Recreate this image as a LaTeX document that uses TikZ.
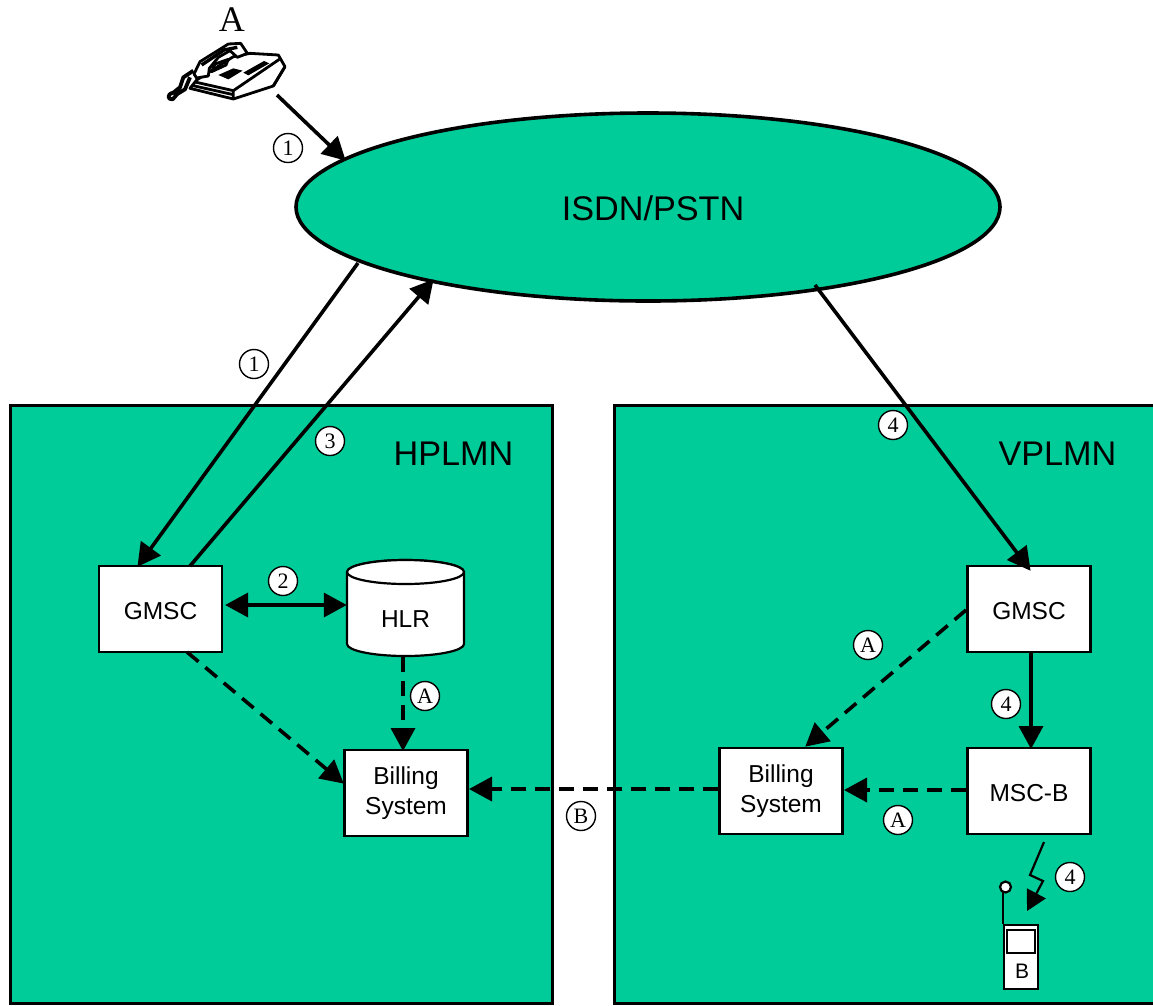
\documentclass[tikz,border=0pt]{standalone}
\usepackage{fontspec}
\setmainfont{Liberation Sans}
\newfontfamily\timesf{Liberation Serif}
\usetikzlibrary{arrows.meta,shapes.geometric}
\definecolor{netgreen}{HTML}{00CC99}
\tikzset{
  x=1pt,y=-1pt,
  plmn/.style={draw=black,line width=3pt,fill=netgreen},
  cloudnet/.style={ellipse,draw=black,line width=3.6pt,fill=netgreen,minimum width=704pt,minimum height=188pt,inner sep=0pt},
  netlabel/.style={font=\fontsize{34.2}{40}\selectfont,inner sep=0pt},
  elem/.style={draw=black,line width=2.2pt,fill=white,minimum width=123pt,minimum height=86pt,inner sep=0pt,align=center,font=\fontsize{24.5}{30}\selectfont},
  mark1/.style={circle,draw=black,line width=1.4pt,fill=white,minimum size=29pt,inner sep=0pt,font=\timesf\fontsize{22}{24}\selectfont},
  flow/.style={line width=3.6pt,-{Triangle[length=23pt,width=24pt]},shorten >=-1pt},
  both/.style={line width=3.6pt,{Triangle[length=23pt,width=24pt]}-{Triangle[length=23pt,width=24pt]}},
  dflow/.style={flow,dash pattern=on 15pt off 9pt},
}
\newcommand{\lowtext}[1]{\raisebox{0pt}[21pt][0pt]{#1}}
\begin{document}
\begin{tikzpicture}
\useasboundingbox (0,0) rectangle (1153,1005);
\fill[white] (0,0) rectangle (1153,1005);
% networks
\draw[plmn] (10,405) rectangle (552,1003);
\draw[plmn] (614,405) rectangle (1156,1003);
\node[cloudnet] (isdn) at (648,207) {};
\node[netlabel] (isdnlabel) at (653,208.5) {ISDN/PSTN};
\node[netlabel] (hplmn) at (453.5,454) {HPLMN};
\node[netlabel] (vplmn) at (1057.5,454) {VPLMN};
% elements
\node[elem] (gmscH) at (160.5,609) {\lowtext{GMSC}};
\node[elem] (billH) at (406,793) {Billing\\System};
\node[elem] (gmscV) at (1029,609) {\lowtext{GMSC}};
\node[elem] (mscB) at (1029,791) {\lowtext{MSC-B}};
\node[elem] (billV) at (781,791) {Billing\\System};
% HLR
\draw[line width=2.2pt,fill=white] (347,572) arc[start angle=180,end angle=360,x radius=58.5,y radius=12] -- (464,644)
  arc[start angle=0,end angle=180,x radius=58.5,y radius=12] -- cycle;
\draw[line width=2.2pt,fill=white] (405.5,572) ellipse[x radius=58.5,y radius=12];
\node[minimum width=117pt,minimum height=96pt,inner sep=0pt] (hlr) at (405.5,608) {};
\node[inner sep=0pt,font=\fontsize{24.5}{30}\selectfont] (hlrlabel) at (405.5,619) {HLR};
% telephone
\begin{scope}[shift={(150,0)},x=0.3333pt,y=-0.3333pt,line width=2.8pt,line join=round]
  \node[inner sep=0pt,font=\timesf\fontsize{36}{38}\selectfont] (partyA) at (246,60) {A};
  \draw[fill=white] (120,265) -- (250,297) -- (370,258) -- (405,200) -- (385,165) -- (300,160) -- (250,170) -- (140,240) -- cycle;
  \draw (135,246) -- (250,272) -- (250,297);
  \draw (250,272) -- (388,178) (370,258) -- (405,200);
  \draw (125,256) -- (250,284);
  \draw[fill=white] (132,222) -- (150,185) -- (235,132) -- (272,130) -- (292,160) -- (262,172) -- (240,152) -- (205,172) -- (178,205) -- (175,228) -- (140,234) -- cycle;
  \fill (205,225) -- (250,205) -- (278,212) -- (235,238) -- cycle;
  \fill (280,218) -- (342,183) -- (358,190) -- (295,226) -- cycle;
  \draw (185,215) -- (195,192) -- (235,178) -- (228,195) -- cycle;
  \draw[line width=3.4pt] (155,195) -- (222,150) -- (262,142);
  \draw[line width=3.8pt] (130,212) -- (100,232) -- (90,262) -- (70,278) .. controls (50,282) and (52,300) .. (68,298) -- (82,282) -- (105,268) -- (120,232);
\end{scope}
% mobile
\coordinate (antTop) at (1004.5,892);
\node[rectangle,draw=black,line width=2.2pt,fill=white,minimum width=34pt,minimum height=64pt,inner sep=0pt] (mobile) at (1021,957) {};
\node[rectangle,draw=black,line width=2.2pt,fill=white,minimum width=28pt,minimum height=23pt,inner sep=0pt] (screen) at (1021,941.5) {};
\node[inner sep=0pt,font=\fontsize{21}{24}\selectfont] (mobilelabel) at (1022,971) {B};
\draw[line width=2.6pt] (mobile.north west) -- (mobile.north west |- antTop);
\node[circle,draw=black,line width=2.2pt,fill=white,minimum size=11pt,inner sep=0pt] (antenna) at (1005.5,887) {};
% connectors
\coordinate (phoneTail) at (277,95);
\coordinate (isdnIn) at (345,160);
\coordinate (isdnOutL) at (358,263);
\coordinate (gmscHin) at (138,566);
\coordinate (gmscHout) at (190,566);
\coordinate (isdnInL) at (433,280);
\coordinate (isdnOutR) at (815,285);
\coordinate (gmscVin) at (1030,570);
\draw[flow] (phoneTail) -- (isdnIn);
\draw[flow] (isdnOutL) -- (gmscHin);
\draw[flow] (gmscHout) -- (isdnInL);
\draw[flow] (isdnOutR) -- (gmscVin);
\draw[both] (gmscH.east |- 0,605) ++(2,0) -- (hlr.west |- 0,605);
\coordinate (hlrOut) at (403,657);
\coordinate (billHtop) at (403,750);
\draw[dflow] (hlrOut) -- (billHtop);
\coordinate (gmscHsw) at (187,652);
\coordinate (billHleft) at (343,783);
\draw[dflow] (gmscHsw) -- (billHleft);
\coordinate (billHright) at (470,789);
\coordinate (billVleft) at (718,789);
\draw[dflow] (billVleft) -- (billHright);
\coordinate (billVright) at (845,790);
\coordinate (mscBleft) at (966,790);
\draw[dflow] (mscBleft) -- (billVright);
\coordinate (gmscVleft) at (966,610);
\coordinate (billVtop) at (806,746);
\draw[dflow] (gmscVleft) -- (billVtop);
\coordinate (gmscVbot) at (1031,652);
\coordinate (mscBtop) at (1031,748);
\draw[flow] (gmscVbot) -- (mscBtop);
% radio link
\coordinate (radioA) at (1044,842);
\coordinate (radioB) at (1030,875);
\coordinate (radioC) at (1043,881);
\coordinate (radioD) at (1027,911);
\draw[line width=2.2pt,-{Triangle[length=20pt,width=21pt]}] (radioA) -- (radioB) -- (radioC) -- (radioD);
% circled marks
\node[mark1] (m1a) at (288,148) {1};
\node[mark1] (m1b) at (254,364) {1};
\node[mark1] (m3) at (330,441) {3};
\node[mark1] (m4a) at (893,425) {4};
\node[mark1] (m2) at (283,581) {2};
\node[mark1] (mAa) at (425,696) {A};
\node[mark1] (mAb) at (868,645) {A};
\node[mark1] (m4b) at (1006,704) {4};
\node[mark1] (mAc) at (898,820) {A};
\node[mark1] (mB) at (581,816) {B};
\node[mark1] (m4c) at (1070,877) {4};
\end{tikzpicture}
\end{document}
